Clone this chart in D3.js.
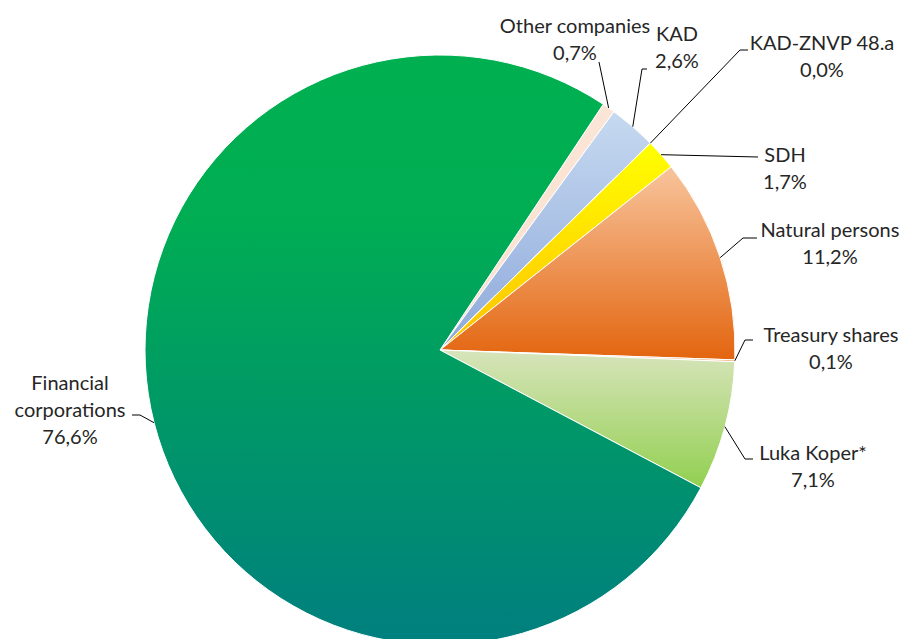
<!DOCTYPE html>
<html>
<head>
<meta charset="utf-8">
<script src="https://cdn.jsdelivr.net/npm/d3@7"></script>
<style>
  body { margin: 0; background: #fff; }
  text { font-family: Lato, "Open Sans", sans-serif; font-size: 20px; fill: #262626; }
</style>
</head>
<body>
<div id="pie_viz"></div>
<script>
// data, in the order the slices run clockwise
const categories = ["Other companies", "KAD", "KAD-ZNVP 48.a", "SDH", "Natural persons", "Treasury shares", "Luka Koper*", "Financial corporations"];
const shares = [0.7, 2.6, 0.0, 1.7, 11.2, 0.1, 7.1, 76.6];
const labelLines = [["Other companies"], ["KAD"], ["KAD-ZNVP 48.a"], ["SDH"], ["Natural persons"], ["Treasury shares"], ["Luka Koper*"], ["Financial", "corporations"]];

// gradient colours (top, bottom) per slice
const fills = [
  ["#FBE5D6", "#FBE1CF"],
  ["#C6D9F0", "#8EA9DB"],
  ["#FFFF00", "#FFC000"],
  ["#FFFF00", "#FFC000"],
  ["#F8C49C", "#E3650F"],
  ["#F4B183", "#F4B183"],
  ["#D8E4BC", "#92D050"],
  ["#00B050", "#007F7F"]
];

// label layout: text centre x, first baseline y, elbow points of the leader line
const labelPos = [
  {x: 575, y: 33, line: [[599, 62]]},
  {x: 677, y: 41, line: [[647, 69], [642, 69]]},
  {x: 822, y: 50, line: [[748, 50], [740, 50]]},
  {x: 785, y: 162, line: [[758, 157]]},
  {x: 830, y: 237, line: [[757, 238], [743, 238]]},
  {x: 831, y: 342, line: [[753, 340], [745, 340]]},
  {x: 813, y: 460, line: [[753, 459], [745, 459]]},
  {x: 70, y: 390, line: [[132, 415], [140, 415]]}
];

const width = 903, height = 639;
const cx = 440, cy = 350, radius = 295;

const svg = d3.select("#pie_viz")
  .append("svg")
    .attr("width", width)
    .attr("height", height);

const defs = svg.append("defs");
fills.forEach((f, i) => {
  const g = defs.append("linearGradient")
    .attr("id", "grad" + i)
    .attr("x1", 0).attr("y1", 0).attr("x2", 0).attr("y2", 1);
  g.append("stop").attr("offset", "0%").attr("stop-color", f[0]);
  if (i === 7) g.append("stop").attr("offset", "28%").attr("stop-color", "#00AD53");
  g.append("stop").attr("offset", "100%").attr("stop-color", f[1]);
});

const data = categories.map((c, i) => ({title: c, value: shares[i], idx: i}));

const start = 33.6 * Math.PI / 180;
const pie = d3.pie()
  .sort(null)
  .value(d => d.value)
  .startAngle(start)
  .endAngle(start + 2 * Math.PI);

const arcs = pie(data);
const arc = d3.arc().innerRadius(0).outerRadius(radius);

const g = svg.append("g")
  .attr("transform", `translate(${cx}, ${cy})`);

g.selectAll("path")
  .data(arcs)
  .enter()
  .append("path")
  .attr("d", arc)
  .attr("fill", d => `url(#grad${d.data.idx})`)
  .attr("stroke", "white")
  .style("stroke-width", "1px");

// leader lines: from the slice edge at its mid angle to the label
arcs.forEach((d, i) => {
  const a = (d.startAngle + d.endAngle) / 2;
  const edge = [cx + radius * Math.sin(a), cy - radius * Math.cos(a)];
  const pts = [edge].concat(labelPos[i].line.slice().reverse());
  svg.append("path")
    .attr("d", d3.line()(pts))
    .attr("fill", "none")
    .attr("stroke", "#000")
    .attr("stroke-width", 1);
});

// labels
const fmt = v => v.toFixed(1).replace(".", ",") + "%";
arcs.forEach((d, i) => {
  const lines = labelLines[i].concat([fmt(d.data.value)]);
  const t = svg.append("text")
    .attr("text-anchor", "middle")
    .attr("x", labelPos[i].x)
    .attr("y", labelPos[i].y);
  lines.forEach((s, k) => {
    t.append("tspan")
      .attr("x", labelPos[i].x)
      .attr("dy", k === 0 ? 0 : 27)
      .text(s);
  });
});
</script>
</body>
</html>
